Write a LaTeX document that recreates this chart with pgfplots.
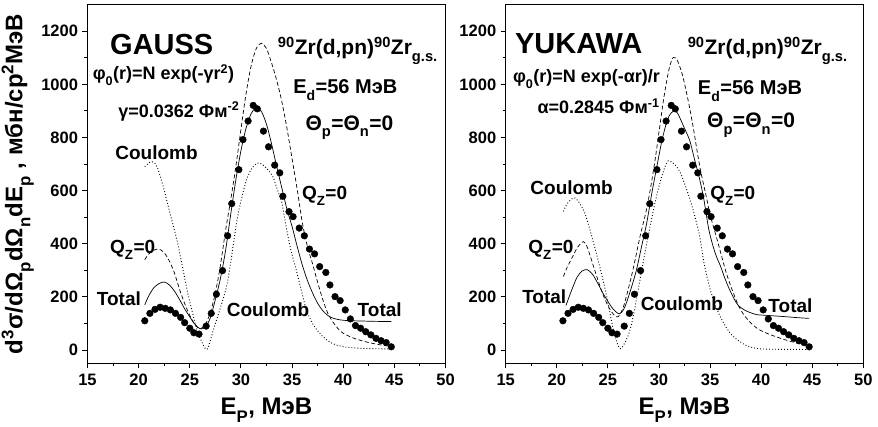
\documentclass[border=0pt]{standalone}
\usepackage{pgfplots}
\pgfplotsset{compat=1.18}
\usepackage{fontspec}
\setmainfont{Liberation Sans}
\newfontfamily\tickfont{Liberation Sans Bold}
\newcommand\fTick{\tickfont\fontsize{16.5bp}{18bp}\selectfont}
\newcommand\fLab{\fontsize{19bp}{21bp}\selectfont}
\newcommand\fBig{\fontsize{21bp}{23bp}\selectfont}
\newcommand\fEd{\fontsize{20bp}{22bp}\selectfont}
\newcommand\fTitle{\fontsize{29bp}{32bp}\selectfont}
\newcommand\fForm{\fontsize{18bp}{20bp}\selectfont}
\newcommand\fAx{\fontsize{24bp}{26bp}\selectfont}
\newcommand\sub[1]{\raisebox{-0.18em}{\textsubscript{#1}}}
\pgfplotsset{
  panel/.style={
    scale only axis, height=358.6bp, anchor=south west,
    xmin=15, xmax=50, ymin=-50, ymax=1300,
    xtick={15,20,...,50}, ytick={0,200,...,1200},
    minor x tick num=1, minor y tick num=1,
    xtick pos=bottom, ytick pos=left, tick align=outside,
    major tick length=5bp, minor tick length=3bp,
    axis line style={line width=1bp}, every tick/.style={black, line width=0.9bp},
    scaled ticks=false,
    xticklabel={\pgfmathtruncatemacro\tk{\tick}{\fTick\tk}},
    yticklabel={\pgfmathtruncatemacro\tk{\tick}{\fTick\tk}},
    xticklabel style={yshift=-2bp},
    yticklabel style={xshift=-1bp},
    xlabel style={at={(axis description cs:0.5,-0.144)}, anchor=base, font=\bfseries\fAx},
    xlabel={E\sub{P}, МэВ},
    clip=true,
  },
  expd/.style={only marks, mark=*, mark size=3.35bp, black},
  tot/.style={black, line width=0.7bp, smooth, no marks},
  qz/.style={black, line width=0.7bp, smooth, no marks, dash pattern=on 4bp off 2.5bp},
  coul/.style={black, line width=0.9bp, smooth, no marks, dash pattern=on 0.9bp off 2.1bp},
}
\begin{document}
\bfseries
\begin{tikzpicture}
\useasboundingbox (0,0) rectangle (878bp,427bp);
% ---------------- GAUSS ----------------
\begin{axis}[panel, width=358bp, at={(87.5bp,63.7bp)},
  ylabel={d\textsuperscript{3}σ/dΩ\sub{p}dΩ\sub{n}dE\sub{p} , мбн/ср\textsuperscript{2}МэВ},
  ylabel style={at={(axis description cs:-0.195,0.5)}, anchor=center, font=\bfseries\fAx},
]
\addplot[coul] coordinates {(20.6,690)(21.0,705)(21.4,708)(21.8,690)(22.3,630)(22.8,555)(23.3,480)(23.8,405)(24.3,310)(24.8,215)(25.3,135)(25.8,65)(26.6,2)(27.0,35)(27.3,75)(28.0,160)(28.6,240)(29.0,330)(29.6,485)(30.0,560)(30.5,635)(31.0,680)(31.5,702)(31.8,704)(32.2,695)(32.6,680)(33.1,654)(33.6,600)(34.0,555)(34.3,490)(34.8,390)(35.4,302)(36.0,210)(36.4,151)(37.0,100)(37.7,63)(38.5,35)(39.3,19)(40.5,10)(42.0,6)(44.6,4)};
\addplot[qz] coordinates {(20.6,340)(21.0,362)(21.5,376)(22.0,380)(22.5,366)(23.0,335)(23.5,290)(24.0,228)(24.5,175)(25.0,130)(25.5,96)(26.0,80)(26.5,95)(27.0,140)(27.5,215)(28.0,320)(28.5,450)(29.0,565)(29.5,690)(30.0,830)(30.5,965)(31.0,1070)(31.5,1135)(32.0,1155)(32.5,1135)(33.0,1080)(33.5,1015)(34.0,935)(34.5,835)(35.0,720)(35.5,605)(36.0,480)(36.5,390)(37.0,325)(37.5,255)(38.0,190)(38.5,138)(39.0,105)(39.5,80)(40.0,63)(41.0,45)(42.0,33)(43.0,24)(44.0,17)(44.7,14)};
\addplot[tot] coordinates {(20.6,170)(21.0,205)(21.5,235)(22.0,250)(22.5,256)(23.0,245)(23.5,222)(24.0,190)(24.5,155)(25.0,125)(25.5,97)(26.0,80)(26.5,86)(27.0,120)(27.5,190)(28.0,270)(28.5,375)(29.0,510)(29.5,640)(30.0,750)(30.5,835)(31.0,890)(31.5,913)(32.0,898)(32.5,850)(33.0,775)(33.5,690)(34.0,610)(34.5,530)(35.0,465)(35.5,390)(36.0,320)(36.5,262)(37.0,215)(37.5,176)(38.0,148)(38.5,130)(39.0,120)(39.5,115)(40.0,112)(41.0,110)(42.0,109)(43.0,108)(44.7,107)};
\addplot[expd] coordinates {(20.6,110)(21.1,138)(21.6,153)(22.1,161)(22.6,157)(23.1,151)(23.6,138)(24.1,123)(24.5,103)(25.0,82)(25.4,65)(25.9,60)(26.6,90)(27.1,138)(27.6,210)(28.2,299)(28.7,430)(29.1,551)(29.8,679)(30.2,792)(30.7,862)(31.2,921)(31.6,908)(32.2,824)(32.7,765)(33.3,696)(33.8,667)(34.1,579)(34.7,521)(35.1,502)(35.7,459)(36.2,430)(36.7,380)(37.2,362)(37.7,314)(38.3,292)(38.7,245)(39.2,201)(39.7,186)(40.2,151)(40.7,117)(41.2,92)(41.7,82)(42.2,69)(42.7,57)(43.2,44)(43.7,35)(44.2,28)(44.7,12)};
\node[anchor=base west, inner sep=0] at (axis cs:17.2,1111) {\fTitle GAUSS};
\node[anchor=base west, inner sep=0] at (axis cs:33.6,1111) {\fBig \textsuperscript{90}Zr(d,pn)\textsuperscript{90}Zr\sub{g.s.}};
\node[anchor=base west, inner sep=0] at (axis cs:35.1,964) {\fEd E\sub{d}=56 МэВ};
\node[anchor=base west, inner sep=0] at (axis cs:36.3,828) {\fBig Θ\sub{p}=Θ\sub{n}=0};
\node[anchor=base west, inner sep=0] at (axis cs:15.5,1017) {\fForm φ\sub{0}(r)=N exp(-γr\textsuperscript{2})};
\node[anchor=base west, inner sep=0] at (axis cs:18.0,877) {\fForm γ=0.0362 Фм\textsuperscript{-2}};
\node[anchor=base west, inner sep=0] at (axis cs:17.7,719) {\fLab Coulomb};
\node[anchor=base west, inner sep=0] at (axis cs:35.96,568) {\fLab Q\sub{Z}=0};
\node[anchor=base west, inner sep=0] at (axis cs:17.2,365) {\fLab Q\sub{Z}=0};
\node[anchor=base west, inner sep=0] at (axis cs:15.9,169) {\fLab Total};
\node[anchor=base west, inner sep=0] at (axis cs:28.6,128) {\fLab Coulomb};
\node[anchor=base west, inner sep=0] at (axis cs:41.4,128) {\fLab Total};
\end{axis}
% ---------------- YUKAWA ----------------
\begin{axis}[panel, width=357.6bp, at={(505.7bp,63.7bp)}]
\addplot[coul] coordinates {(20.65,522)(21.0,550)(21.6,572)(22.0,565)(22.6,528)(23.0,485)(23.6,403)(24.1,330)(24.6,251)(25.0,180)(25.4,101)(25.8,40)(26.2,5)(26.7,30)(27.2,80)(27.7,170)(28.2,277)(28.7,380)(29.2,478)(29.6,552)(30.0,616)(30.5,680)(30.9,712)(31.5,700)(32.1,667)(32.7,605)(33.1,560)(33.6,490)(34.0,425)(34.4,330)(35.0,230)(35.7,151)(36.5,90)(37.3,50)(38.5,18)(39.6,6)(41.0,3)(44.7,2)};
\addplot[qz] coordinates {(20.65,277)(21.0,310)(21.6,355)(22.0,385)(22.6,408)(23.0,385)(23.6,314)(24.1,255)(24.6,201)(25.1,160)(25.6,132)(26.0,125)(26.5,160)(27.0,230)(27.5,310)(28.15,428)(28.7,515)(29.15,604)(29.6,710)(30.0,820)(30.5,955)(31.0,1060)(31.4,1101)(31.8,1090)(32.3,1035)(32.8,950)(33.3,850)(34.0,690)(34.7,565)(35.0,510)(35.7,415)(36.7,277)(38.0,151)(39.6,82)(41.9,44)(44.2,19)(44.7,17)};
\addplot[tot] coordinates {(20.9,168)(21.5,230)(22.0,275)(22.5,298)(23.0,302)(23.5,285)(24.0,252)(24.5,215)(25.0,183)(25.5,155)(26.1,136)(26.5,150)(26.8,176)(27.3,235)(27.8,302)(28.3,390)(28.8,478)(29.3,590)(29.8,692)(30.3,790)(30.7,850)(31.0,882)(31.4,899)(31.8,893)(32.4,843)(33.0,790)(33.4,730)(34.0,640)(34.4,566)(34.9,450)(35.5,365)(36.0,318)(36.5,265)(37.0,220)(37.6,176)(38.0,160)(38.5,148)(39.0,140)(39.6,133)(40.7,130)(42.2,126)(43.5,122)(44.7,119)};
\addplot[expd] coordinates {(20.6,110)(21.1,138)(21.6,153)(22.1,161)(22.6,157)(23.1,151)(23.6,138)(24.1,123)(24.5,103)(25.0,82)(25.4,65)(25.9,60)(26.6,90)(27.1,138)(27.6,210)(28.2,299)(28.7,430)(29.1,551)(29.8,679)(30.2,792)(30.7,862)(31.2,921)(31.6,908)(32.2,824)(32.7,765)(33.3,696)(33.8,667)(34.1,579)(34.7,521)(35.1,502)(35.7,459)(36.2,430)(36.7,380)(37.2,362)(37.7,314)(38.3,292)(38.7,245)(39.2,201)(39.7,186)(40.2,151)(40.7,117)(41.2,92)(41.7,82)(42.2,69)(42.7,57)(43.2,44)(43.7,35)(44.2,28)(44.7,12)};
\node[anchor=base west, inner sep=0] at (axis cs:15.9,1118) {\fTitle YUKAWA};
\node[anchor=base west, inner sep=0] at (axis cs:32.8,1111) {\fBig \textsuperscript{90}Zr(d,pn)\textsuperscript{90}Zr\sub{g.s.}};
\node[anchor=base west, inner sep=0] at (axis cs:33.8,962) {\fEd E\sub{d}=56 МэВ};
\node[anchor=base west, inner sep=0] at (axis cs:34.7,836) {\fBig Θ\sub{p}=Θ\sub{n}=0};
\node[anchor=base west, inner sep=0] at (axis cs:15.7,1008) {\fForm φ\sub{0}(r)=N exp(-αr)/r};
\node[anchor=base west, inner sep=0] at (axis cs:18.1,889) {\fForm α=0.2845 Фм\textsuperscript{-1}};
\node[anchor=base west, inner sep=0] at (axis cs:17.4,587) {\fLab Coulomb};
\node[anchor=base west, inner sep=0] at (axis cs:35.0,568) {\fLab Q\sub{Z}=0};
\node[anchor=base west, inner sep=0] at (axis cs:17.2,365) {\fLab Q\sub{Z}=0};
\node[anchor=base west, inner sep=0] at (axis cs:16.6,177) {\fLab Total};
\node[anchor=base west, inner sep=0] at (axis cs:28.2,147) {\fLab Coulomb};
\node[anchor=base west, inner sep=0] at (axis cs:40.7,140) {\fLab Total};
\end{axis}
\end{tikzpicture}
\end{document}
